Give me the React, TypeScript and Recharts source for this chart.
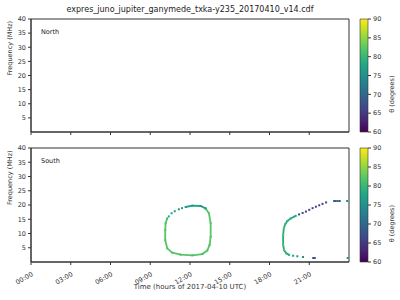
import { ScatterChart, Scatter, XAxis, YAxis, ReferenceArea, BarChart, Bar } from 'recharts';

const hourTicks = [0, 3, 6, 9, 12, 15, 18, 21];
const freqTicks = [5, 10, 15, 20, 25, 30, 35, 40];
const thetaTicks = [60, 65, 70, 75, 80, 85, 90];

// [hour, MHz, theta (deg)]
const northPoints: number[][] = [];

const loopRim = [
  [13.18, 18.8, 82], [13.43, 17.1, 82], [13.56, 13.6, 82], [13.56, 8.9, 82], [13.48, 6.0, 82],
  [13.3, 4.0, 82], [12.93, 2.8, 81], [12.17, 2.35, 81], [11.29, 2.6, 81], [10.66, 3.3, 82],
  [10.28, 4.8, 82], [10.13, 7.7, 82], [10.13, 11.2, 82], [10.16, 13.6, 82], [10.28, 15.3, 80],
];
const loopTop = [
  [11.67, 19.3, 77], [12.17, 19.75, 76], [12.8, 19.65, 76], [13.18, 18.8, 78],
];
const loopTopLeft = [
  [10.4, 16.0, 78], [10.61, 17.1, 77], [10.85, 17.8, 77], [11.16, 18.5, 76], [11.4, 18.9, 77],
];

const eveningArc = [
  [19.98, 16.2, 78], [19.6, 15.3, 79], [19.35, 14.4, 80], [19.18, 13.2, 81], [19.08, 11.8, 82],
  [19.03, 9.5, 82], [19.03, 6.0, 82], [19.1, 4.2, 82], [19.27, 3.05, 80], [19.48, 2.5, 79],
];
const eveningFringe = [
  [19.78, 2.2, 77], [20.1, 2.0, 76], [20.53, 1.75, 75], [21.3, 1.4, 68], [21.42, 1.4, 68], [23.9, 1.4, 75],
];
const eveningSlope = [
  [20.23, 16.7, 67], [20.5, 17.2, 67], [20.75, 17.7, 66], [21.0, 18.3, 66], [21.25, 18.9, 66],
  [21.5, 19.4, 66], [21.75, 19.9, 66], [22.0, 20.4, 66], [22.27, 20.9, 67],
];
const eveningTop = [
  [22.88, 21.4, 69], [23.0, 21.4, 69], [23.15, 21.4, 69], [23.3, 21.4, 69], [23.86, 21.4, 74],
];

const VIRIDIS = ['#440154', '#482475', '#414487', '#355f8d', '#2a788e', '#21918c', '#22a884', '#44bf70', '#7ad151', '#bddf26', '#fde725'];

function hexToRgb(h: string) {
  return [1, 3, 5].map((i) => parseInt(h.slice(i, i + 2), 16));
}

function thetaColor(theta: number) {
  const p = Math.max(0, Math.min(1, (theta - 60) / 30)) * 10;
  const i = Math.min(9, Math.floor(p));
  const a = hexToRgb(VIRIDIS[i]);
  const b = hexToRgb(VIRIDIS[i + 1]);
  const f = p - i;
  const c = a.map((v, k) => Math.round(v + (b[k] - v) * f));
  return `rgb(${c[0]},${c[1]},${c[2]})`;
}

const toRows = (pts: number[][]) => pts.map(([t, f, theta]) => ({ t, f, theta }));

const font = 'DejaVu Sans, sans-serif';
const ink = '#333';

function Mark(props: any) {
  const { cx, cy, payload } = props;
  if (cx == null || cy == null) return <g />;
  return <rect x={cx - 1} y={cy - 1} width={2} height={2} fill={thetaColor(payload.theta)} />;
}

function HourTick(props: any) {
  const { x, y, payload } = props;
  const h = String(payload.value).padStart(2, '0');
  return (
    <g transform={`translate(${x},${y + 4})`}>
      <text x={0} y={0} dy={5} textAnchor="end" transform="rotate(-30)" fontSize={6.5} fill={ink} fontFamily={font}>
        {h}:00
      </text>
    </g>
  );
}

function Panel({ name, showTime }: { name: string; showTime: boolean }) {
  const height = showTime ? 160 : 140;
  const margin = showTime ? { top: 8, right: 51, bottom: 8, left: 8 } : { top: 19, right: 51, bottom: 0, left: 8 };
  const series = showTime
    ? [
        { rows: loopRim, line: true },
        { rows: loopTop, line: true },
        { rows: loopTopLeft, line: false },
        { rows: eveningArc, line: true },
        { rows: eveningFringe, line: false },
        { rows: eveningSlope, line: false },
        { rows: eveningTop, line: false },
      ]
    : [{ rows: northPoints, line: false }];
  return (
    <ScatterChart width={400} height={height} margin={margin}>
      <XAxis
        type="number"
        dataKey="t"
        domain={[0, 24]}
        allowDataOverflow
        ticks={hourTicks}
        height={showTime ? 30 : 8}
        stroke={ink}
        tickSize={3}
        tick={showTime ? <HourTick /> : () => <g />}
        label={
          showTime
            ? { value: 'Time (hours of 2017-04-10 UTC)', position: 'insideBottom', offset: 3, fontSize: 7, fill: ink, fontFamily: font }
            : undefined
        }
      />
      <YAxis
        type="number"
        dataKey="f"
        domain={[0, 40]}
        allowDataOverflow
        ticks={freqTicks}
        width={23}
        stroke={ink}
        tickSize={3}
        tick={{ fontSize: 6.5, fill: ink, fontFamily: font }}
        label={{ value: 'Frequency (MHz)', angle: -90, position: 'insideLeft', offset: 2, fontSize: 6.5, fill: ink, fontFamily: font }}
      />
      {series.map((s, i) => (
        <Scatter
          key={i}
          data={toRows(s.rows)}
          shape={<Mark />}
          line={s.line && s.rows.length ? { stroke: thetaColor(s.rows[0][2]), strokeWidth: 1.8 } : false}
          lineType="joint"
          isAnimationActive={false}
        />
      ))}
      <ReferenceArea
        x1={0}
        x2={24}
        y1={0}
        y2={40}
        ifOverflow="visible"
        fill="none"
        stroke={ink}
        strokeWidth={1}
        label={{ value: name, position: 'insideTopLeft', offset: 10, fontSize: 6.5, fill: '#222', fontFamily: font }}
      />
    </ScatterChart>
  );
}

function Colorbar({ height, top, bottom }: { height: number; top: number; bottom: number }) {
  const gid = `viridis-${top}`;
  return (
    <BarChart width={50} height={height} data={[{ k: 'c', v: [60, 90] }]} margin={{ top, right: 0, bottom, left: 10 }} barCategoryGap={0}>
      <defs>
        <linearGradient id={gid} x1="0" y1="1" x2="0" y2="0">
          {VIRIDIS.map((c, i) => (
            <stop key={c} offset={i / 10} stopColor={c} />
          ))}
        </linearGradient>
      </defs>
      <XAxis dataKey="k" hide />
      <YAxis
        orientation="right"
        type="number"
        domain={[60, 90]}
        ticks={thetaTicks}
        width={32}
        axisLine={false}
        stroke={ink}
        tickSize={3}
        tick={{ fontSize: 6.5, fill: ink, fontFamily: font }}
        label={{ value: 'θ (degrees)', angle: -90, position: 'insideRight', offset: 8, fontSize: 6.5, fill: ink, fontFamily: font }}
      />
      <Bar dataKey="v" fill={`url(#${gid})`} stroke={ink} strokeWidth={0.6} isAnimationActive={false} />
    </BarChart>
  );
}

export default function App() {
  return (
    <div style={{ position: 'fixed', left: 0, top: 0, width: 400, height: 300, background: '#fff', fontFamily: font }}>
      <div style={{ position: 'absolute', left: 0, top: 5, width: 380, textAlign: 'center', fontSize: 8, color: '#222' }}>
        expres_juno_jupiter_ganymede_txka-y235_20170410_v14.cdf
      </div>
      <div style={{ position: 'absolute', left: 0, top: 0 }}>
        <Panel name="North" showTime={false} />
      </div>
      <div style={{ position: 'absolute', left: 0, top: 140 }}>
        <Panel name="South" showTime={true} />
      </div>
      <div style={{ position: 'absolute', left: 350, top: 0 }}>
        <Colorbar height={140} top={19} bottom={8} />
      </div>
      <div style={{ position: 'absolute', left: 350, top: 140 }}>
        <Colorbar height={160} top={8} bottom={38} />
      </div>
    </div>
  );
}
